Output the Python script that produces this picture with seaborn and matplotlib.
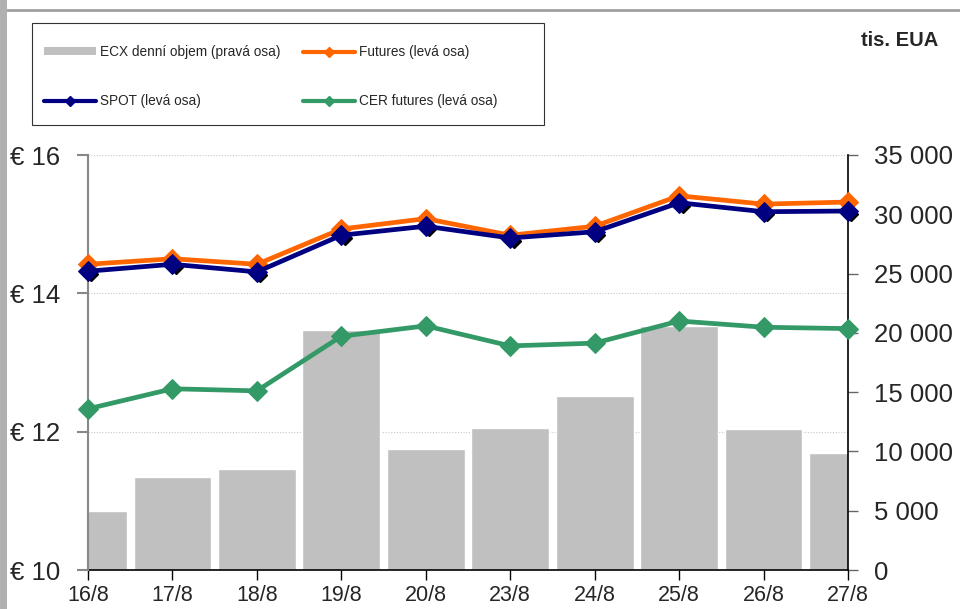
import matplotlib
matplotlib.use("Agg")
import matplotlib.pyplot as plt
import matplotlib.transforms as mtransforms
from matplotlib.patches import Patch, Rectangle
from matplotlib.lines import Line2D
from matplotlib.ticker import FuncFormatter
import seaborn as sns
import pandas as pd

# data
dates = ["16/8", "17/8", "18/8", "19/8", "20/8", "23/8", "24/8", "25/8", "26/8", "27/8"]
ecx_volume = [5000, 7850, 8500, 20250, 10200, 12000, 14650, 20550, 11900, 9850]
futures = [14.42, 14.50, 14.42, 14.93, 15.08, 14.84, 14.97, 15.41, 15.29, 15.32]
spot = [14.32, 14.42, 14.31, 14.84, 14.97, 14.80, 14.89, 15.31, 15.18, 15.19]
cer_futures = [12.33, 12.62, 12.59, 13.38, 13.53, 13.24, 13.28, 13.60, 13.51, 13.49]

df = pd.DataFrame({"date": dates, "pos": range(len(dates)), "ecx": ecx_volume,
                   "futures": futures, "spot": spot, "cer": cer_futures})

sns.set_style("white")
plt.rcParams["font.family"] = ["Liberation Sans", "DejaVu Sans"]

fig = plt.figure(figsize=(9.6, 6.09), dpi=100)
ax2 = fig.add_axes([88/960, 1-570/609, (848-88)/960, (570-155)/609])  # bars, right axis
ax = ax2.twinx()  # lines, left axis
ax.yaxis.tick_left()
ax.yaxis.set_label_position("left")
ax2.yaxis.tick_right()
ax2.yaxis.set_label_position("right")

# volume bars on the right axis
sns.barplot(data=df, x="date", y="ecx", color="#C0C0C0", width=0.92,
            saturation=1, ax=ax2, zorder=2)
ax2.set_ylim(0, 35000)
ax2.set_xlim(0, len(dates) - 1)
ax2.set_yticks(range(0, 35001, 5000))
ax2.yaxis.set_major_formatter(FuncFormatter(lambda v, p: f"{int(v):,}".replace(",", " ")))

# dotted grid at the left-axis levels, drawn behind the bars
for lv in [12, 14, 16]:
    ax2.axhline((lv - 10) / 6 * 35000, color="#C8C8C8", lw=0.8, ls=(0, (1, 1.5)), zorder=1)

# price lines on the left axis
shadow = mtransforms.offset_copy(ax.transData, fig=fig, x=2.5, y=-2, units="points")
ax.plot(df["pos"], df["spot"], ls="none", marker="D", ms=7, color="black",
        transform=shadow, zorder=1, clip_on=False)
series = [("futures", "#FF6600"), ("spot", "#000080"), ("cer", "#339966")]
for col, c in series:
    sns.lineplot(data=df, x="pos", y=col, color=c, lw=3.4, marker="D", ms=10,
                 markeredgecolor=c, ax=ax, clip_on=False, zorder=3)
ax.set_ylim(10, 16)
ax.set_yticks([10, 12, 14, 16])
ax.yaxis.set_major_formatter(FuncFormatter(lambda v, p: f"€ {int(v)}"))
ax.set_xlim(0, len(dates) - 1)
ax.set_zorder(ax2.get_zorder() + 1)
ax.patch.set_visible(False)

for a in (ax, ax2):
    a.set_xlabel("")
    a.set_ylabel("")
    a.spines["top"].set_visible(False)

ax.spines["left"].set_color("#888888")
ax.spines["left"].set_linewidth(1.5)
ax.spines["right"].set_visible(False)
ax.spines["bottom"].set_visible(False)
ax2.spines["left"].set_visible(False)
ax2.spines["right"].set_color("black")
ax2.spines["bottom"].set_color("black")
ax2.spines["right"].set_linewidth(1.2)
ax2.spines["bottom"].set_linewidth(1.2)

ax.tick_params(axis="y", left=True, length=8, width=1.5, color="#888888",
               labelsize=18.5, pad=12)
ax.tick_params(axis="x", bottom=False, labelbottom=False)
ax2.tick_params(axis="y", right=True, length=7, width=1, color="#666666",
                labelsize=18.5, pad=12)
ax2.tick_params(axis="x", bottom=True, length=7, width=1, color="black",
                labelsize=15.5, pad=4)

# legend box in the top left
fig.add_artist(Rectangle((32/960, 1-125/609), 512/960, 102/609, fill=False,
                         edgecolor="#333333", lw=0.8, transform=fig.transFigure))
handles = [
    Patch(facecolor="#C0C0C0", edgecolor="none", label="ECX denní objem (pravá osa)"),
    Line2D([], [], color="#000080", lw=3, marker="D", ms=5, label="SPOT (levá osa)"),
    Line2D([], [], color="#FF6600", lw=3, marker="D", ms=5, label="Futures (levá osa)"),
    Line2D([], [], color="#339966", lw=3, marker="D", ms=5, label="CER futures (levá osa)"),
]
leg = fig.legend(handles=handles, loc="upper left", ncol=2,
                 bbox_to_anchor=(44/960, 1-45/609),
                 borderaxespad=0, borderpad=0, fontsize=9.8, frameon=False,
                 handlelength=3.8, handleheight=0.5, labelspacing=2.6,
                 handletextpad=0.3, columnspacing=1.7)

fig.text(938/960, 1-40/609, "tis. EUA", ha="right", va="center",
         fontsize=14.5, fontweight="bold")

# outer chart frame
fig.add_artist(Line2D([0, 1], [1-10/609, 1-10/609], color="#A0A0A0", lw=2,
                      transform=fig.transFigure))
fig.add_artist(Line2D([3/960, 3/960], [0, 1], color="#B0B0B0", lw=5,
                      transform=fig.transFigure))

fig.savefig("out.png", dpi=100)
